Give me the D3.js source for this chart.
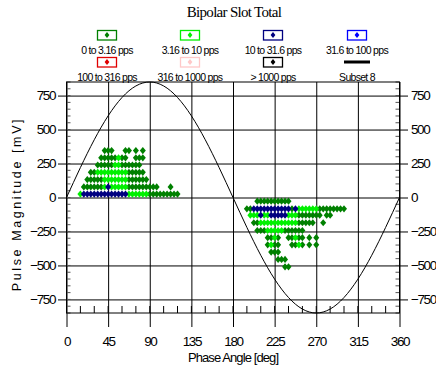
<!DOCTYPE html>
<html>
<head>
<meta charset="utf-8">
<script src="https://cdn.jsdelivr.net/npm/d3@7"></script>
<style>
  body { margin: 0; background: #fff; }
  svg { display: block; }
  .narrow { font-family: "Liberation Sans", Arial, sans-serif; }
  .axis text { font-family: "Liberation Sans", Arial, sans-serif; font-size: 13.5px; letter-spacing: -1.4px; fill: #000; }
  .axis path.domain { display: none; }
</style>
</head>
<body>
<svg id="chart" width="436" height="371"></svg>
<script>
// phase bins are 3.75 deg wide; each row = one pulse magnitude bin [mV]
const PHASE_BIN = 3.75;

const seriesNames = ["0 to 3.16 pps", "3.16 to 10 pps", "10 to 31.6 pps", "31.6 to 100 pps",
                     "100 to 316 pps", "316 to 1000 pps", "> 1000 pps", "Subset 8"];
const seriesColors = ["#008000", "#00f000", "#000080", "#0000ff",
                      "#e00000", "#ffc8c8", "#000000", "#000000"];

// 0 to 3.16 pps
const rateLow = [
  { mv: 345, bins: [11, 12, 13, 17, 18, 20, 22] },
  { mv: 292, bins: [10, 11, 12, 13, 14, 16, 17, 20, 21, 22] },
  { mv: 239, bins: [9, 10, 11, 12, 13, 16, 17, 18, 19, 20, 21] },
  { mv: 185, bins: [7, 8, 18, 19, 20, 21, 22] },
  { mv: 132, bins: [6, 7, 8, 9, 10, 18, 19, 20, 21, 22, 23] },
  { mv: 78, bins: [5, 6, 7, 8, 9, 10, 18, 19, 20, 21, 22, 23, 24, 25, 26, 30] },
  { mv: 25, bins: [24, 25, 26, 27, 28, 29, 30, 31, 32] },
  { mv: -27, bins: [55, 56, 57, 58, 59, 60, 61, 62, 63, 64] },
  { mv: -83, bins: [52, 53, 65, 73, 74, 75, 76, 77, 78, 79, 80] },
  { mv: -130, bins: [67, 68, 69, 70, 71, 72, 73, 75, 76] },
  { mv: -186, bins: [54, 55, 67, 68, 69, 70, 71, 74] },
  { mv: -243, bins: [55, 56, 57, 63, 64, 65, 66, 67, 68] },
  { mv: -296, bins: [58, 59, 61, 64, 65, 67, 68, 70, 72] },
  { mv: -348, bins: [58, 60, 61, 65, 66, 68, 70, 72] },
  { mv: -402, bins: [59, 60, 61] },
  { mv: -456, bins: [61, 62, 63] },
  { mv: -510, bins: [63, 64] }
];

// 3.16 to 10 pps
const rateMid = [
  { mv: 292, bins: [15] },
  { mv: 239, bins: [14, 15] },
  { mv: 185, bins: [9, 10, 11, 12, 13, 14, 15, 16, 17] },
  { mv: 132, bins: [11, 12, 13, 14, 15, 16, 17] },
  { mv: 78, bins: [11, 13, 14, 15, 16, 17] },
  { mv: 25, bins: [4, 18, 19, 20, 21, 22, 23] },
  { mv: -83, bins: [67, 68, 69, 70, 71, 72] },
  { mv: -130, bins: [53, 54, 55, 57, 58, 64, 65, 66] },
  { mv: -186, bins: [56, 57, 58, 59, 60, 61, 62, 63, 64, 65, 66] },
  { mv: -243, bins: [58, 59, 60, 61, 62] },
  { mv: -296, bins: [60, 66] },
  { mv: -348, bins: [59, 67] }
];

// 10 to 31.6 pps
const rateHigh = [
  { mv: 78, bins: [12] },
  { mv: 25, bins: [5, 6, 7, 8, 9, 10, 11, 12, 13, 14, 15, 16, 17] },
  { mv: -83, bins: [54, 55, 56, 57, 58, 59, 60, 61, 62, 63, 64, 66] },
  { mv: -130, bins: [56, 59, 60, 61, 62, 63] }
];

// Subset 8: reference sine, sampled every 15 deg
const sinePhase = [0, 15, 30, 45, 60, 75, 90, 105, 120, 135, 150, 165, 180,
                   195, 210, 225, 240, 255, 270, 285, 300, 315, 330, 345, 360];
const sineMv = [0, 220, 425, 601, 736, 821, 850, 821, 736, 601, 425, 220, 0,
                -220, -425, -601, -736, -821, -850, -821, -736, -601, -425, -220, 0];

const xTicks = [0, 45, 90, 135, 180, 225, 270, 315, 360];
const yTicks = [750, 500, 250, 0, -250, -500, -750];

const svg = d3.select("#chart");

const x = d3.scaleLinear().domain([0, 360]).range([66.5, 399.5]);
const y = d3.scaleLinear().domain([-850, 850]).range([313, 82]);

// title
svg.append("text")
  .attr("x", 234).attr("y", 17)
  .attr("text-anchor", "middle")
  .attr("font-family", "'Liberation Serif', 'DejaVu Serif', serif")
  .attr("font-size", 15)
  .attr("letter-spacing", -0.7)
  .text("Bipolar Slot Total");

// legend: 4 columns x 2 rows
const legendCols = [107, 190, 273, 357];
const legendRows = [35, 62];
const legend = svg.append("g").attr("class", "narrow");
seriesNames.forEach((name, i) => {
  const cx = legendCols[i % 4], cy = legendRows[Math.floor(i / 4)];
  const g = legend.append("g").attr("transform", `translate(${cx},${cy})`);
  if (i === 7) {
    g.append("line").attr("x1", -13).attr("x2", 13)
      .attr("stroke", "#000").attr("stroke-width", 3);
  } else {
    g.append("rect").attr("x", -9.5).attr("y", -4.5).attr("width", 19).attr("height", 9.5)
      .attr("fill", "#fff").attr("stroke", seriesColors[i]).attr("stroke-width", 1.3);
    g.append("path").attr("d", "M0,-3L2.4,0L0,3L-2.4,0Z").attr("fill", seriesColors[i]);
  }
  g.append("text").attr("y", 19).attr("text-anchor", "middle")
    .attr("font-size", 10.5).attr("letter-spacing", -0.7)
    .text(name);
});

// axes with long ticks that act as the grid
svg.append("g").attr("class", "axis")
  .attr("transform", "translate(408,0)")
  .call(d3.axisLeft(y).tickValues(yTicks).tickSize(350).tickPadding(3))
  .call(g => g.selectAll("line").attr("stroke", "#000"));

svg.append("g").attr("class", "axis")
  .attr("transform", "translate(58,0)")
  .call(d3.axisRight(y).tickValues(yTicks).tickSize(350).tickPadding(3))
  .call(g => g.selectAll("line").remove());

svg.append("g").attr("class", "axis")
  .attr("transform", "translate(0,82)")
  .call(d3.axisBottom(x).tickValues(xTicks).tickSize(245).tickPadding(9))
  .call(g => g.selectAll("line").attr("stroke", "#000"));

// minor ticks
const minorX = d3.range(0, 361, 15);
const minorY = d3.range(-850, 851, 50);
svg.append("g").selectAll("line").data(minorX).join("line")
  .attr("x1", d => x(d)).attr("x2", d => x(d))
  .attr("y1", y(-850)).attr("y2", y(-850) - 7)
  .attr("stroke", "#000");
svg.append("g").selectAll("line").data(minorY).join("line")
  .attr("x1", x(0)).attr("x2", x(0) + 4)
  .attr("y1", d => y(d)).attr("y2", d => y(d))
  .attr("stroke", "#555");
svg.append("g").selectAll("line").data(minorY).join("line")
  .attr("x1", x(360)).attr("x2", x(360) - 4)
  .attr("y1", d => y(d)).attr("y2", d => y(d))
  .attr("stroke", "#555");

// frame
svg.append("rect")
  .attr("x", x(0)).attr("y", y(850))
  .attr("width", x(360) - x(0)).attr("height", y(-850) - y(850))
  .attr("fill", "none").attr("stroke", "#000");

// scatter (diamonds)
const diamond = "M0,-3.6L3,0L0,3.6L-3,0Z";
[rateLow, rateMid, rateHigh].forEach((rows, si) => {
  const pts = rows.flatMap(r => r.bins.map(b => ({ phase: b * PHASE_BIN, mv: r.mv })));
  svg.append("g").selectAll("path").data(pts).join("path")
    .attr("transform", d => `translate(${x(d.phase)},${y(d.mv)})`)
    .attr("d", diamond)
    .attr("fill", seriesColors[si]);
});

// sine reference
svg.append("path")
  .datum(sinePhase.map((p, i) => [p, sineMv[i]]))
  .attr("fill", "none").attr("stroke", "#000").attr("stroke-width", 1)
  .attr("d", d3.line().x(d => x(d[0])).y(d => y(d[1])).curve(d3.curveNatural));

// axis titles
svg.append("text")
  .attr("class", "narrow")
  .attr("x", 233).attr("y", 362)
  .attr("text-anchor", "middle")
  .attr("font-size", 13).attr("letter-spacing", -0.9)
  .text("Phase Angle [deg]");

svg.append("text")
  .attr("transform", "translate(21,204) rotate(-90)")
  .attr("text-anchor", "middle")
  .attr("font-family", "'Liberation Sans', Arial, sans-serif")
  .attr("font-size", 12.5).attr("letter-spacing", 2.6)
  .text("Pulse Magnitude [mV]");
</script>
</body>
</html>
